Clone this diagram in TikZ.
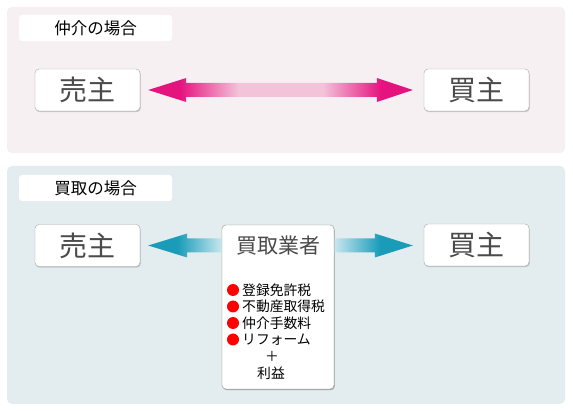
\documentclass[tikz,border=0pt]{standalone}
\usepackage{fontspec}
\setmainfont{Noto Sans CJK JP}
\usetikzlibrary{shadows,calc}
\definecolor{pinkbg}{HTML}{F6F0F3}
\definecolor{bluebg}{HTML}{E3EDF0}
\definecolor{pinkdark}{HTML}{E5137E}
\definecolor{pinklight}{HTML}{F3C3DA}
\definecolor{bluedark}{HTML}{1A9CB9}
\definecolor{bluelight}{HTML}{C9E7EF}
\definecolor{textgrey}{HTML}{4A4A4A}
\pgfdeclarehorizontalshading{pinkarrow}{100bp}{color(0bp)=(pinkdark); color(31bp)=(pinkdark); color(42bp)=(pinklight); color(58bp)=(pinklight); color(69bp)=(pinkdark); color(100bp)=(pinkdark)}
\pgfdeclarehorizontalshading{blueleft}{100bp}{color(0bp)=(bluedark); color(45bp)=(bluedark); color(75bp)=(bluelight); color(100bp)=(bluelight)}
\pgfdeclarehorizontalshading{blueright}{100bp}{color(0bp)=(bluelight); color(25bp)=(bluelight); color(54bp)=(bluedark); color(100bp)=(bluedark)}
\begin{document}
\begin{tikzpicture}[x=1pt,y=-1pt,
  panel/.style={rounded corners=5pt},
  tag/.style={fill=white, rounded corners=3pt, minimum width=153pt, minimum height=26pt,
    font=\fontsize{16.5}{18}\selectfont, text=black, inner sep=0pt},
  party/.style={draw=gray!70, fill=white, rounded corners=4pt, minimum width=105pt,
    minimum height=42pt, font=\fontsize{28}{30}\selectfont, text=textgrey, inner sep=0pt,
    drop shadow={shadow xshift=0.8pt, shadow yshift=-1.2pt, opacity=0.35}},
  agentbox/.style={draw=gray!70, fill=white, rounded corners=4pt, minimum width=112pt,
    minimum height=164pt, inner sep=0pt,
    drop shadow={shadow xshift=0.8pt, shadow yshift=-1.2pt, opacity=0.35}},
  agenttitle/.style={font=\fontsize{21}{23}\selectfont, text=textgrey, inner sep=0pt},
  item/.style={font=\fontsize{13.8}{15}\selectfont, text=black, inner sep=0pt, anchor=west},
  reddot/.style={circle, fill=red, minimum size=12pt, inner sep=0pt}
]
\useasboundingbox (0,0) rectangle (573,411);
\fill[white] (0,0) rectangle (573,411);
\fill[pinkbg, panel] (7,7) rectangle (565,153);
\fill[bluebg, panel] (7,166) rectangle (565,404);

% top section
\node[tag] (t1) at (95.5,28) {仲介の場合};
\node[party] (s1) at (87.5,90) {売主};
\node[party] (b1) at (476.5,90) {買主};
\coordinate (pl) at ($(s1.east)+(8,0)$);
\coordinate (pr) at ($(b1.west)+(-11,0)$);
\shade[shading=pinkarrow] (pl) -- ($(pl)+(38,-12)$) -- ($(pl)+(38,-7)$) -- ($(pr)+(-36,-7)$)
  -- ($(pr)+(-36,-12)$) -- (pr) -- ($(pr)+(-36,12)$) -- ($(pr)+(-36,7)$)
  -- ($(pl)+(38,7)$) -- ($(pl)+(38,12)$) -- cycle;

% bottom section
\node[tag] (t2) at (95.5,188) {買取の場合};
\node[party] (s2) at (87.5,245.5) {売主};
\node[party] (b2) at (476.5,245) {買主};
\node[agentbox] (m) at (278,307) {};
\coordinate (ml) at (m.west |- s2.east);
\coordinate (mr) at (m.east |- s2.east);
\coordinate (ql) at ($(s2.east)+(8,0)$);
\coordinate (qr) at ($(b2.west)+(-11,0.5)$);
\shade[shading=blueleft] (ql) -- ($(ql)+(39,-12)$) -- ($(ql)+(39,-7)$) -- ($(ml)+(0,-7)$)
  -- ($(ml)+(0,7)$) -- ($(ql)+(39,7)$) -- ($(ql)+(39,12)$) -- cycle;
\shade[shading=blueright] (qr) -- ($(qr)+(-38,-12)$) -- ($(qr)+(-38,-7)$) -- ($(mr)+(0,-7)$)
  -- ($(mr)+(0,7)$) -- ($(qr)+(-38,7)$) -- ($(qr)+(-38,12)$) -- cycle;
\node[agentbox] (m2) at (m) {};
\node[agenttitle] (mt) at (278,246) {買取業者};
\node[reddot] (d1) at (233,290) {};
\node[reddot] (d2) at (233,306.5) {};
\node[reddot] (d3) at (233,323) {};
\node[reddot] (d4) at (233,339.5) {};
\node[item] (i1) at (242,290) {登録免許税};
\node[item] (i2) at (242,306.5) {不動産取得税};
\node[item] (i3) at (242,323) {仲介手数料};
\node[item] (i4) at (242,339.5) {リフォーム};
\node[item, anchor=center] (plus) at (272,356) {＋};
\node[item, anchor=center] (rieki) at (271,373) {利益};
\end{tikzpicture}
\end{document}
